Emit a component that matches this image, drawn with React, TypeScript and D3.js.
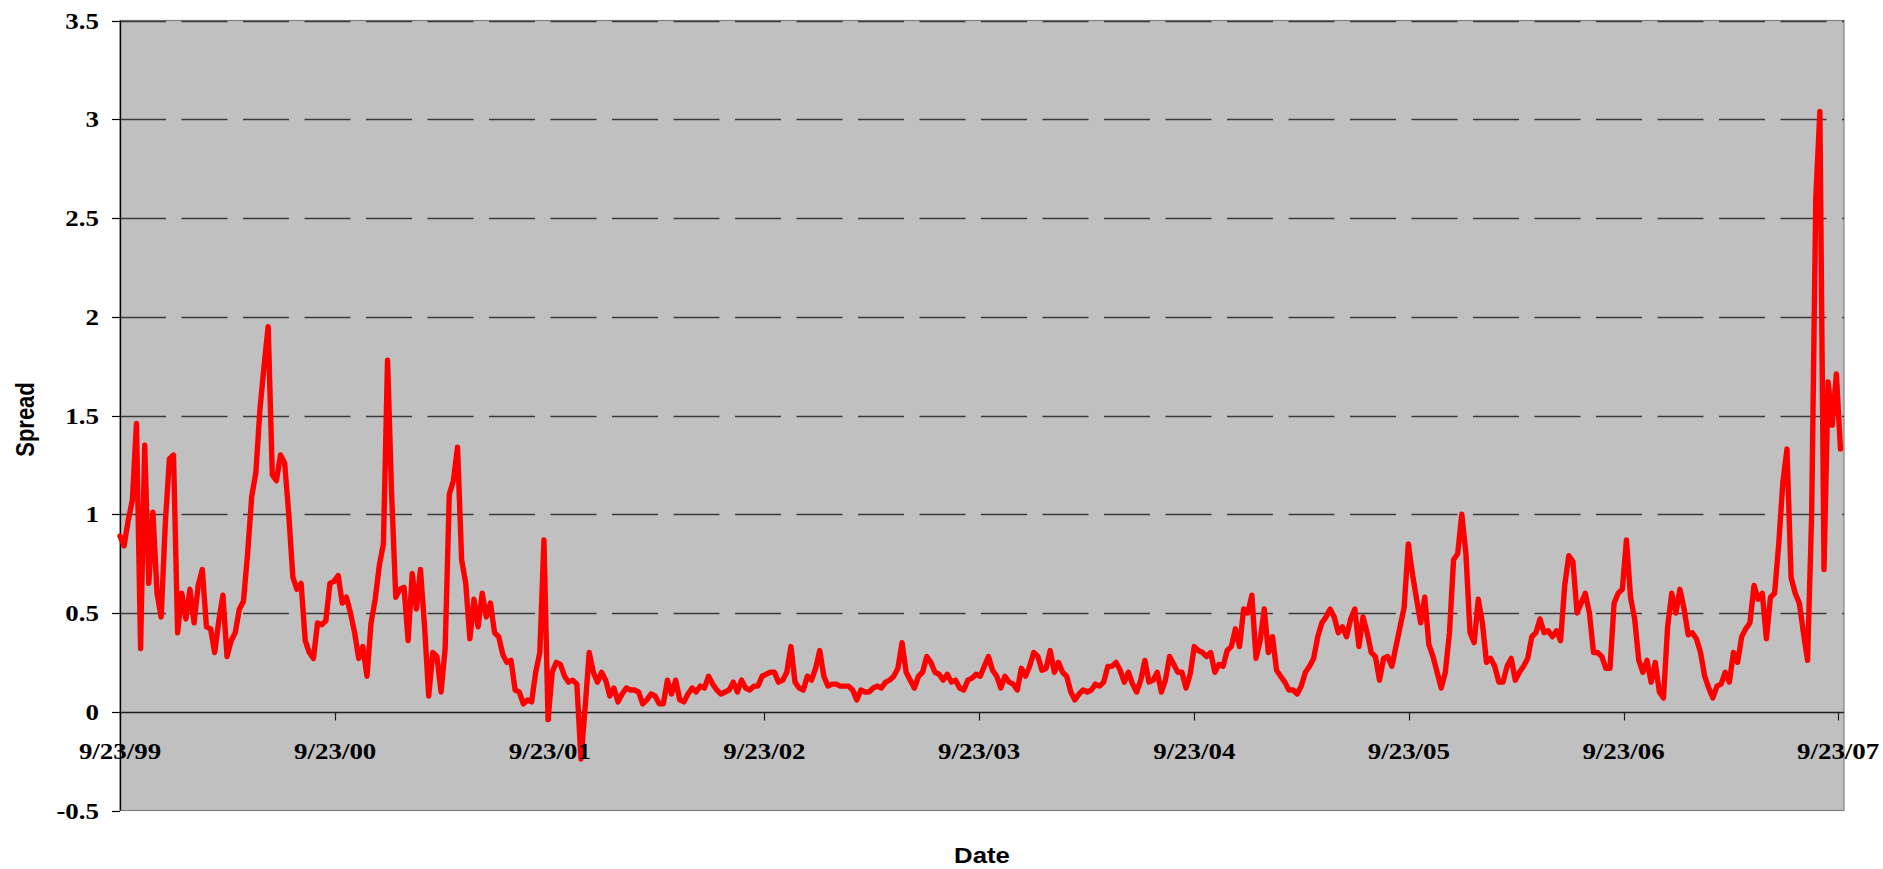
import React from 'react';
import * as d3 from 'd3';

// Weekly spread readings, one array per year starting each 23 September.
const firstObservation = new Date(1999, 8, 23);

const spread1999 = [
  0.89, 0.84, 0.97, 1.07, 1.46, 0.32, 1.35, 0.65, 1.01, 0.6,
  0.48, 0.95, 1.28, 1.3, 0.4, 0.6, 0.47, 0.62, 0.45, 0.64,
  0.72, 0.43, 0.42, 0.3, 0.46, 0.59, 0.28, 0.36, 0.4, 0.52,
  0.56, 0.8, 1.09, 1.21, 1.53, 1.75, 1.95, 1.2, 1.17, 1.3,
  1.26, 1.0, 0.68, 0.62, 0.65, 0.36, 0.3, 0.27, 0.45, 0.44,
  0.46, 0.65,
];
const spread2000 = [
  0.66, 0.69, 0.55, 0.58, 0.5, 0.4, 0.27, 0.33, 0.18, 0.45,
  0.57, 0.74, 0.85, 1.78, 1.1, 0.58, 0.62, 0.63, 0.36, 0.7,
  0.52, 0.72, 0.43, 0.08, 0.3, 0.28, 0.1, 0.32, 1.1, 1.17,
  1.34, 0.77, 0.65, 0.37, 0.57, 0.43, 0.6, 0.48, 0.55, 0.4,
  0.38, 0.29, 0.25, 0.26, 0.11, 0.1, 0.04, 0.06, 0.05, 0.2,
  0.3, 0.87,
];
const spread2001 = [
  -0.04, 0.2, 0.25, 0.24, 0.18, 0.15, 0.16, 0.14, -0.24, 0.02,
  0.3, 0.2, 0.15, 0.2, 0.16, 0.08, 0.12, 0.05, 0.09, 0.12,
  0.11, 0.11, 0.1, 0.04, 0.06, 0.09, 0.08, 0.04, 0.04, 0.16,
  0.09, 0.16, 0.06, 0.05, 0.09, 0.12, 0.1, 0.13, 0.12, 0.18,
  0.14, 0.11, 0.09, 0.1, 0.11, 0.15, 0.1, 0.16, 0.12, 0.11,
  0.13, 0.13,
];
const spread2002 = [
  0.18, 0.19, 0.2, 0.2, 0.15, 0.16, 0.2, 0.33, 0.15, 0.12,
  0.11, 0.18, 0.16, 0.22, 0.31, 0.18, 0.13, 0.14, 0.14, 0.13,
  0.13, 0.13, 0.11, 0.06, 0.11, 0.1, 0.1, 0.12, 0.13, 0.12,
  0.15, 0.16, 0.18, 0.22, 0.35, 0.2, 0.16, 0.12, 0.18, 0.2,
  0.28, 0.25, 0.2, 0.19, 0.16, 0.19, 0.15, 0.16, 0.12, 0.11,
  0.16, 0.17,
];
const spread2003 = [
  0.19, 0.18, 0.23, 0.28, 0.21, 0.18, 0.12, 0.18, 0.15, 0.14,
  0.11, 0.22, 0.18, 0.23, 0.3, 0.28, 0.21, 0.22, 0.31, 0.2,
  0.25, 0.2, 0.18, 0.1, 0.06, 0.09, 0.11, 0.1, 0.11, 0.14,
  0.13, 0.15, 0.23, 0.23, 0.25, 0.21, 0.15, 0.2, 0.14, 0.1,
  0.16, 0.26, 0.15, 0.16, 0.2, 0.1, 0.16, 0.28, 0.24, 0.2,
  0.2, 0.12,
];
const spread2004 = [
  0.19, 0.33, 0.31, 0.3, 0.28, 0.3, 0.2, 0.24, 0.23, 0.31,
  0.33, 0.42, 0.33, 0.52, 0.5, 0.59, 0.27, 0.36, 0.52, 0.3,
  0.38, 0.21, 0.18, 0.15, 0.11, 0.11, 0.09, 0.13, 0.2, 0.23,
  0.27, 0.38, 0.45, 0.48, 0.52, 0.48, 0.4, 0.43, 0.38, 0.47,
  0.52, 0.33, 0.48, 0.4, 0.3, 0.28, 0.16, 0.27, 0.28, 0.23,
  0.33, 0.43,
];
const spread2005 = [
  0.53, 0.85, 0.7, 0.57, 0.45, 0.58, 0.34, 0.28, 0.2, 0.12,
  0.2, 0.4, 0.77, 0.8, 1.0, 0.8, 0.4, 0.35, 0.57, 0.45,
  0.25, 0.27, 0.23, 0.15, 0.15, 0.23, 0.27, 0.16, 0.2, 0.23,
  0.27, 0.38, 0.4, 0.47, 0.4, 0.41, 0.38, 0.41, 0.36, 0.64,
  0.79, 0.76, 0.5, 0.55, 0.6, 0.5, 0.3, 0.3, 0.28, 0.22,
  0.22, 0.55,
];
const spread2006 = [
  0.6, 0.62, 0.87, 0.58, 0.47, 0.26, 0.2, 0.26, 0.15, 0.25,
  0.1, 0.07, 0.43, 0.6, 0.5, 0.62, 0.52, 0.39, 0.4, 0.37,
  0.3, 0.18, 0.12, 0.07, 0.13, 0.14, 0.2, 0.15, 0.3, 0.25,
  0.38, 0.42, 0.45, 0.64, 0.57, 0.6, 0.37, 0.58, 0.6, 0.85,
  1.16, 1.33, 0.68, 0.6, 0.55, 0.4, 0.26, 1.0, 2.6, 3.04,
  0.72, 1.67,
];
const spread2007 = [1.45, 1.71, 1.33];

const yTickValues = [-0.5, 0, 0.5, 1, 1.5, 2, 2.5, 3, 3.5];
const gridValues = [0.5, 1, 1.5, 2, 2.5, 3, 3.5];
const xTickYears = [1999, 2000, 2001, 2002, 2003, 2004, 2005, 2006, 2007];

const W = 1883;
const H = 869;
const plotLeft = 120;
const plotRight = 1844;
const plotTop = 20.5;
const plotBottom = 810.5;
const stretch = 1.17;

export default function App() {
  const x = d3
    .scaleTime()
    .domain([new Date(1999, 8, 23), new Date(2007, 9, 3)])
    .range([plotLeft, plotRight]);
  const y = d3.scaleLinear().domain([-0.5, 3.5]).range([plotBottom, plotTop]);

  const values = [
    ...spread1999,
    ...spread2000,
    ...spread2001,
    ...spread2002,
    ...spread2003,
    ...spread2004,
    ...spread2005,
    ...spread2006,
    ...spread2007,
  ];
  const series = values.map((v, i) => ({
    date: d3.timeDay.offset(firstObservation, 7 * i),
    value: v,
  }));

  const line = d3
    .line<{ date: Date; value: number }>()
    .x((d) => x(d.date))
    .y((d) => y(d.value));

  const fmt = d3.timeFormat('%-m/%d/%y');
  const xTicks = xTickYears.map((yr) => new Date(yr, 8, 23));
  const y0 = Math.round(y(0)) + 0.5;

  return (
    <svg
      width={W}
      height={H}
      style={{ position: 'absolute', left: 0, top: 0, display: 'block', background: '#fff' }}
    >
      <rect
        x={plotLeft}
        y={plotTop}
        width={plotRight - plotLeft}
        height={plotBottom - plotTop}
        fill="#C0C0C0"
        stroke="#808080"
        strokeWidth={1.2}
      />
      {gridValues.map((v) => (
        <line
          key={v}
          x1={plotLeft}
          x2={plotRight}
          y1={Math.round(y(v)) + 0.5}
          y2={Math.round(y(v)) + 0.5}
          stroke="#3a3a3a"
          strokeWidth={1.3}
          strokeDasharray="46 15.5"
        />
      ))}
      {/* horizontal axis at zero */}
      <line x1={plotLeft} x2={plotRight} y1={y0} y2={y0} stroke="#202020" strokeWidth={1.3} />
      {xTicks.map((d) => (
        <line
          key={+d}
          x1={Math.round(x(d)) + 0.5}
          x2={Math.round(x(d)) + 0.5}
          y1={y0}
          y2={y0 + 8}
          stroke="#202020"
          strokeWidth={1.2}
        />
      ))}
      {/* vertical axis */}
      <line
        x1={plotLeft + 0.5}
        x2={plotLeft + 0.5}
        y1={plotTop}
        y2={plotBottom}
        stroke="#000"
        strokeWidth={1.3}
      />
      {yTickValues.map((v) => (
        <line
          key={v}
          x1={plotLeft - 8}
          x2={plotLeft}
          y1={Math.round(y(v)) + 0.5}
          y2={Math.round(y(v)) + 0.5}
          stroke="#000"
          strokeWidth={1.2}
        />
      ))}

      <path
        d={line(series) || ''}
        fill="none"
        stroke="#FF0000"
        strokeWidth={5.4}
        strokeLinejoin="round"
        strokeLinecap="round"
      />

      <g fontFamily="'Liberation Serif', 'Times New Roman', serif" fontWeight="bold" fontSize={23} fill="#000">
        {yTickValues.map((v) => (
          <text
            key={v}
            textAnchor="end"
            transform={`translate(99, ${y(v) + 8}) scale(${stretch}, 1)`}
          >
            {String(v)}
          </text>
        ))}
        {xTicks.map((d) => (
          <text
            key={+d}
            textAnchor="middle"
            transform={`translate(${x(d)}, 759) scale(${stretch}, 1)`}
          >
            {fmt(d)}
          </text>
        ))}
      </g>

      <g fontFamily="'Liberation Sans', Arial, sans-serif" fontWeight="bold" fill="#000">
        <text
          fontSize={22}
          textAnchor="middle"
          transform={`translate(34, ${(plotTop + plotBottom) / 2 + 4}) scale(${stretch}, 1) rotate(-90)`}
        >
          Spread
        </text>
        <text
          fontSize={22}
          textAnchor="middle"
          transform={`translate(${(plotLeft + plotRight) / 2}, 863) scale(${stretch}, 1)`}
        >
          Date
        </text>
      </g>
    </svg>
  );
}
